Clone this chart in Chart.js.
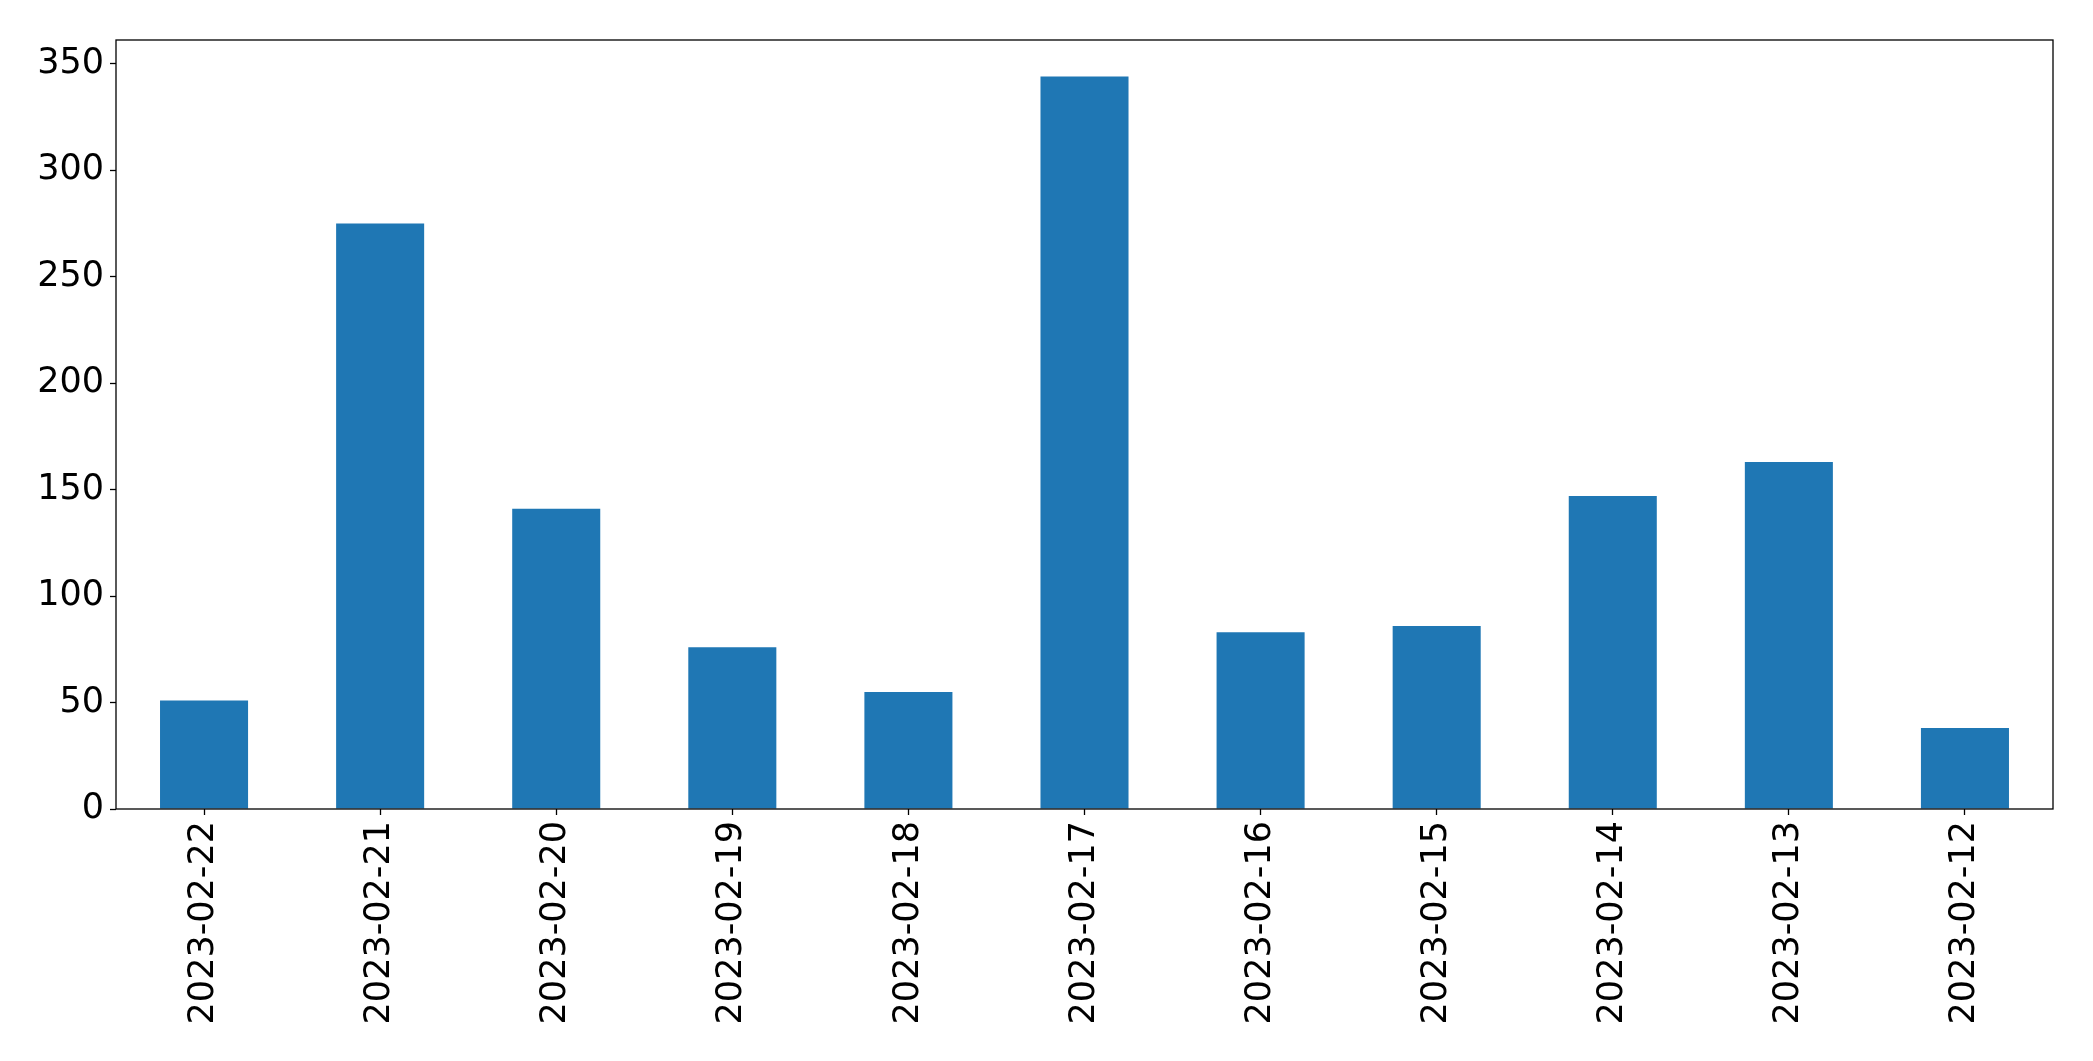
<!DOCTYPE html>
<html>
<head>
<meta charset="utf-8">
<script src="https://cdn.jsdelivr.net/npm/chart.js@4/dist/chart.umd.min.js"></script>
<style>
html,body{margin:0;padding:0;background:#fff;}
#c{display:block;}
</style>
</head>
<body>
<canvas id="c" width="2093" height="1061"></canvas>
<script>
const categories = ["2023-02-22","2023-02-21","2023-02-20","2023-02-19","2023-02-18","2023-02-17","2023-02-16","2023-02-15","2023-02-14","2023-02-13","2023-02-12"];
const values = [51, 275, 141, 76, 55, 344, 83, 86, 147, 163, 38];
const yTicks = [0, 50, 100, 150, 200, 250, 300, 350];

const frame = {
  id: 'frame',
  afterDraw(chart) {
    const a = chart.chartArea, ctx = chart.ctx;
    ctx.save();
    ctx.strokeStyle = '#000';
    ctx.lineWidth = 1.3;
    ctx.strokeRect(a.left, a.top, a.right - a.left, a.bottom - a.top);
    ctx.restore();
  }
};

new Chart(document.getElementById('c'), {
  type: 'bar',
  data: {
    labels: categories,
    datasets: [{
      data: values,
      backgroundColor: '#1f77b4',
      borderWidth: 0,
      categoryPercentage: 1.0,
      barPercentage: 0.5
    }]
  },
  options: {
    responsive: false,
    animation: false,
    events: [],
    layout: { padding: { top: 40, right: 40, left: 0, bottom: 0 } },
    plugins: { legend: { display: false }, tooltip: { enabled: false } },
    scales: {
      x: {
        offset: true,
        grid: { display: true, offset: false, drawOnChartArea: false, drawTicks: true, tickLength: 6, tickColor: '#000', tickWidth: 1.3 },
        border: { display: false },
        ticks: {
          color: '#000', font: { family: 'DejaVu Sans', size: 35 },
          minRotation: 90, maxRotation: 90, padding: 6, autoSkip: false
        },
        afterFit(scale) { scale.height = 252; }
      },
      y: {
        min: 0,
        max: Math.max(...values) * 1.05,
        grid: { display: true, drawOnChartArea: false, drawTicks: true, tickLength: 6, tickColor: '#000', tickWidth: 1.3 },
        border: { display: false },
        ticks: { color: '#000', font: { family: 'DejaVu Sans', size: 35 }, stepSize: 50, padding: 6 },
        afterBuildTicks(scale) { scale.ticks = yTicks.map(v => ({ value: v })); },
        afterFit(scale) { scale.width = 116; }
      }
    }
  },
  plugins: [frame]
});
</script>
</body>
</html>
